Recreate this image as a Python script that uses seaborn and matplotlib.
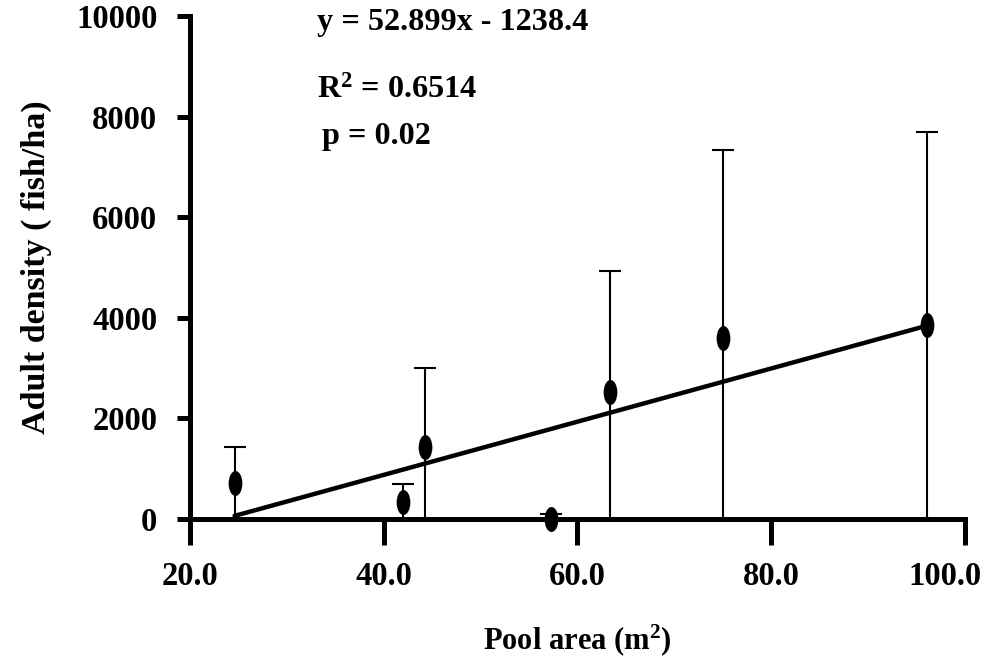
import numpy as np
import pandas as pd
import matplotlib
matplotlib.use("Agg")
import matplotlib.pyplot as plt
import matplotlib.transforms as mtransforms
from matplotlib.path import Path
import seaborn as sns

# Data
pool_area = [24.6, 42.0, 44.3, 57.3, 63.4, 75.0, 96.1]
density_mean = [710, 345, 1440, 0, 2520, 3605, 3850]
density_err_upper = [715, 358, 1568, 100, 2405, 3730, 3850]
slope, intercept = 52.899, -1238.4
x_ticks = [20, 40, 60, 80, 100]
x_tick_labels = ["20.0", "40.0", "60.0", "80.0", "100.0"]
y_ticks = [0, 2000, 4000, 6000, 8000, 10000]
y_tick_labels = ["0", "2000", "4000", "6000", "8000", "10000"]

sns.set_theme(style="white")
plt.rcParams["font.family"] = ["Liberation Serif", "DejaVu Serif"]
plt.rcParams["font.weight"] = "bold"
plt.rcParams["text.color"] = "black"
plt.rcParams["axes.labelcolor"] = "black"
plt.rcParams["xtick.color"] = "black"
plt.rcParams["ytick.color"] = "black"
plt.rcParams["mathtext.fontset"] = "custom"
plt.rcParams["mathtext.rm"] = "Liberation Serif:bold"
plt.rcParams["mathtext.bf"] = "Liberation Serif:bold"
plt.rcParams["mathtext.it"] = "Liberation Serif:bold"

df = pd.DataFrame({"area": pool_area, "density": density_mean})

fig = plt.figure(figsize=(9.87, 6.57), dpi=100)
ax = fig.add_axes([0.1925, 0.21, 0.9777 - 0.1925, 0.9756 - 0.21])

# error bars: from zero up to mean + upper error
lower = [max(m, 0) for m in density_mean]
ax.errorbar(pool_area, density_mean, yerr=[lower, density_err_upper], fmt="none",
            ecolor="black", elinewidth=1.5, capsize=8, capthick=1.5, zorder=2)

# regression line
xl = np.array([min(pool_area), max(pool_area)])
line_df = pd.DataFrame({"x": xl, "y": slope * xl + intercept})
sns.lineplot(data=line_df, x="x", y="y", color="black", linewidth=3.2, ax=ax, zorder=3)

# elliptical markers
circ = Path.unit_circle()
ell = Path(circ.vertices * np.array([0.55, 1.0]), circ.codes)
sns.scatterplot(data=df, x="area", y="density", marker=ell, s=18**2,
                color="black", edgecolor="black", linewidth=0, ax=ax, zorder=4)
for coll in ax.collections:
    coll.set_clip_on(False)

ax.set_xlim(20, 100)
ax.set_ylim(0, 10000)
ax.set_xticks(x_ticks)
ax.set_xticklabels(x_tick_labels)
ax.set_yticks(y_ticks)
ax.set_yticklabels(y_tick_labels)

for s in ["top", "right"]:
    ax.spines[s].set_visible(False)
for s in ["left", "bottom"]:
    ax.spines[s].set_linewidth(3.6)
    ax.spines[s].set_color("black")

ax.tick_params(axis="x", direction="out", length=19, width=3.6, pad=11,
               labelsize=23.5, colors="black", bottom=True)
ax.tick_params(axis="y", direction="out", length=9.5, width=3.6, pad=14,
               labelsize=23.5, colors="black", left=True)
for lab in ax.get_xticklabels() + ax.get_yticklabels():
    lab.set_fontweight("bold")
    lab.set_color("black")

# shift the last x tick label left as in the reference
last = ax.get_xticklabels()[-1]
last.set_transform(last.get_transform() +
                   mtransforms.ScaledTranslation(-20 / 100, 0, fig.dpi_scale_trans))

ax.set_xlabel(r"Pool area (m$^2$)", fontsize=22, fontweight="bold", labelpad=22, color="black")
ax.set_ylabel("Adult density ( fish/ha)", fontsize=24.5, fontweight="bold", labelpad=17, color="black")

ax.text(33.1, 9880, "y = 52.899x - 1238.4", fontsize=23.2, fontweight="bold", va="center", ha="left")
ax.text(33.1, 8530, r"R$^2$ = 0.6514", fontsize=23.2, fontweight="bold", va="center", ha="left")
ax.text(33.6, 7600, "p = 0.02", fontsize=23.2, fontweight="bold", va="center", ha="left")

fig.savefig("out.png", dpi=100)
